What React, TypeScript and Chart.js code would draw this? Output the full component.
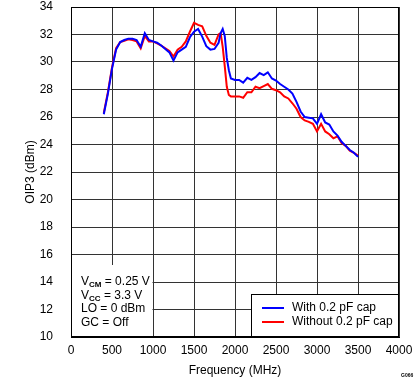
import React, { useEffect, useRef } from "react";
import { Chart, registerables } from "chart.js";

Chart.register(...registerables);

const freqs = [400, 450, 500, 550, 600, 650, 700, 750, 800, 850, 900, 950, 1000, 1050, 1100, 1150, 1200, 1250, 1300, 1350, 1400, 1450, 1500, 1550, 1600, 1650, 1700, 1750, 1800, 1825, 1850, 1875, 1900, 1925, 1950, 2000, 2050, 2100, 2150, 2200, 2250, 2300, 2350, 2400, 2450, 2500, 2550, 2600, 2650, 2700, 2750, 2800, 2850, 2900, 2950, 3000, 3050, 3100, 3150, 3200, 3250, 3300, 3350, 3400, 3450, 3500];

const withCap = [26.2, 27.7, 29.5, 30.9, 31.45, 31.6, 31.7, 31.7, 31.6, 31.1, 32.1, 31.6, 31.5, 31.4, 31.2, 30.95, 30.7, 30.1, 30.7, 30.9, 31.1, 31.8, 32.2, 32.4, 31.85, 31.15, 30.9, 30.95, 31.4, 32.1, 32.4, 31.9, 30.3, 29.4, 28.8, 28.7, 28.7, 28.5, 28.85, 28.7, 28.9, 29.2, 29.05, 29.25, 28.8, 28.65, 28.4, 28.2, 28.0, 27.7, 27.1, 26.4, 26.0, 25.95, 25.9, 25.5, 26.2, 25.6, 25.45, 24.95, 24.65, 24.2, 23.9, 23.6, 23.4, 23.1];

const withoutCap = [26.3, 27.8, 29.6, 31.0, 31.45, 31.55, 31.65, 31.6, 31.5, 31.0, 31.9, 31.5, 31.5, 31.35, 31.2, 31.0, 30.8, 30.4, 30.9, 31.1, 31.5, 32.2, 32.85, 32.7, 32.6, 31.9, 31.4, 31.25, 32.0, 32.1, 31.1, 29.7, 28.2, 27.6, 27.5, 27.5, 27.5, 27.4, 27.8, 27.8, 28.2, 28.1, 28.25, 28.4, 28.05, 27.95, 27.8, 27.5, 27.35, 27.0, 26.6, 26.0, 25.75, 25.65, 25.5, 24.95, 25.5, 24.95, 24.75, 24.45, 24.6, 24.1, 23.9, 23.55, 23.4, 23.2];

const seriesNames = ["With 0.2 pF cap", "Without 0.2 pF cap"];
const seriesColors = ["#0000ff", "#ff0000"];

const noteLines: [string, string, string][] = [
  ["V", "CM", " = 0.25 V"],
  ["V", "CC", " = 3.3 V"],
  ["LO = 0 dBm", "", ""],
  ["GC = Off", "", ""],
];

const FONT = "'Liberation Sans', Arial, sans-serif";

const overlayPlugin = {
  id: "overlay",
  afterDraw(chart: any) {
    const { ctx, chartArea } = chart;
    const { left, right, top, bottom } = chartArea;
    ctx.save();

    // annotation background box
    const boxRight = chart.scales.x.getPixelForValue(1000);
    ctx.fillStyle = "#fff";
    ctx.fillRect(left + 1, 265, boxRight - left - 1.5, bottom - 265);

    ctx.strokeStyle = "#000";
    ctx.lineWidth = 1;
    ctx.strokeRect(left + 0.5, top + 0.5, right - left - 1, bottom - top - 1);

    ctx.fillStyle = "#000";
    ctx.textBaseline = "middle";
    ctx.textAlign = "left";
    const x0 = left + 10;
    let y = bottom - 55;
    for (const [a, sub, b] of noteLines) {
      ctx.font = `12px ${FONT}`;
      ctx.fillText(a, x0, y);
      let x = x0 + ctx.measureText(a).width;
      if (sub) {
        ctx.font = `bold 8px ${FONT}`;
        ctx.fillText(sub, x, y + 3);
        x += ctx.measureText(sub).width;
        ctx.font = `12px ${FONT}`;
        ctx.fillText(b, x, y);
      }
      y += 13.5;
    }

    const lx = 251;
    const ly = 294;
    ctx.fillStyle = "#fff";
    ctx.fillRect(lx, ly, right - lx, bottom - ly);
    ctx.strokeStyle = "#000";
    ctx.strokeRect(lx + 0.5, ly + 0.5, right - lx - 1, bottom - ly - 1);
    ctx.font = `12px ${FONT}`;
    seriesNames.forEach((name, i) => {
      const yy = ly + 14 + i * 14;
      ctx.strokeStyle = seriesColors[i];
      ctx.lineWidth = 2;
      ctx.beginPath();
      ctx.moveTo(lx + 11, yy);
      ctx.lineTo(lx + 33, yy);
      ctx.stroke();
      ctx.fillStyle = "#000";
      ctx.fillText(name, lx + 41, yy);
    });

    ctx.font = `bold 5px ${FONT}`;
    ctx.fillText("G066", 401, 376);
    ctx.restore();
  },
};

export default function App() {
  const ref = useRef<HTMLCanvasElement>(null);
  useEffect(() => {
    document.body.style.margin = "0";
    const chart = new Chart(ref.current!, {
      type: "line",
      data: {
        datasets: [
          {
            label: seriesNames[0],
            data: freqs.map((f, i) => ({ x: f, y: withCap[i] })),
            borderColor: seriesColors[0],
            borderWidth: 2,
            pointRadius: 0,
            tension: 0,
          },
          {
            label: seriesNames[1],
            data: freqs.map((f, i) => ({ x: f, y: withoutCap[i] })),
            borderColor: seriesColors[1],
            borderWidth: 2,
            pointRadius: 0,
            tension: 0,
          },
        ],
      },
      options: {
        animation: false,
        responsive: false,
        layout: { padding: { left: 0, right: 20, top: 7, bottom: 0 } },
        plugins: { legend: { display: false }, tooltip: { enabled: false } },
        scales: {
          x: {
            type: "linear",
            min: 0,
            max: 4000,
            afterFit: (s: any) => { s.height = 45; s.paddingLeft = 0; s.paddingRight = 0; },
            ticks: { stepSize: 500, color: "#000", font: { family: FONT, size: 12 }, padding: 6, maxRotation: 0, callback: (v: any) => String(v) },
            grid: { color: "#333", drawTicks: false },
            border: { color: "#000" },
            title: { display: true, text: "Frequency (MHz)", color: "#000", font: { family: FONT, size: 12 }, padding: { top: 2 } },
          },
          y: {
            min: 10,
            max: 34,
            afterFit: (s: any) => { s.width = 71; s.paddingTop = 0; s.paddingBottom = 0; },
            ticks: { stepSize: 2, color: "#000", font: { family: FONT, size: 12 }, padding: 18, callback: (v: any) => String(v) },
            grid: { color: "#333", drawTicks: false },
            border: { color: "#000" },
            title: { display: true, text: "OIP3 (dBm)", color: "#000", font: { family: FONT, size: 12 }, padding: { top: 23, bottom: 0 } },
          },
        },
      },
      plugins: [overlayPlugin],
    });
    return () => chart.destroy();
  }, []);
  return <canvas ref={ref} width={419} height={382} style={{ display: "block" }} />;
}
